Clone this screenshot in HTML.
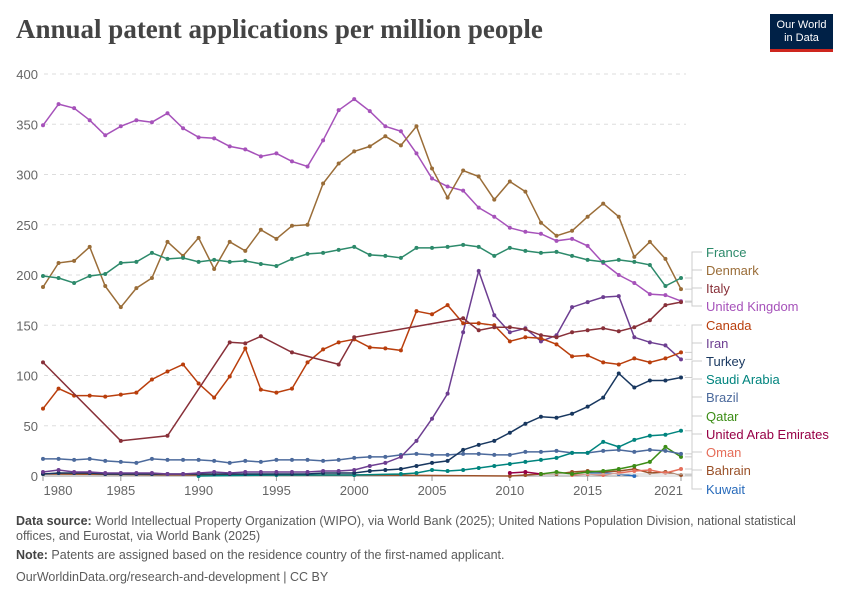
<!DOCTYPE html>
<html><head><meta charset="utf-8">
<style>
body{margin:0;background:#fff;font-family:"Liberation Sans",sans-serif;}
#wrap{position:relative;width:850px;height:600px;overflow:hidden;}
h1{position:absolute;left:16px;top:14px;margin:0;font-family:"Liberation Serif",serif;font-size:27px;font-weight:bold;color:#444;letter-spacing:0px}
.logo{position:absolute;left:770px;top:14px;width:63px;height:38px;background:#002147;color:#fff;font-size:11px;line-height:13px;text-align:center;padding-top:5px;box-sizing:border-box;border-bottom:3px solid #ce261e}
.foot{position:absolute;left:16px;font-size:12.5px;color:#5b5b5b;line-height:15px}
.foot b{color:#444}
</style></head><body>
<div id="wrap">
<h1>Annual patent applications per million people</h1>
<div class="logo">Our World<br>in Data</div>
<svg id="chart" width="850" height="600" style="position:absolute;left:0;top:0"></svg>
<div class="foot" style="top:514px;width:805px"><b>Data source:</b> World Intellectual Property Organization (WIPO), via World Bank (2025); United Nations Population Division, national statistical offices, and Eurostat, via World Bank (2025)</div>
<div class="foot" style="top:548px"><b>Note:</b> Patents are assigned based on the residence country of the first-named applicant.</div>
<div class="foot" style="top:570px">OurWorldinData.org/research-and-development | CC BY</div>
</div>
<script>
const startYear = 1980;
const yTicks = [0,50,100,150,200,250,300,350,400];
const xTicks = [1980,1985,1990,1995,2000,2005,2010,2015,2021];
const franceVals = [199,197,192,199,201,212,213,222,216,217,213,215,213,214,211,209,216,221,222,225,228,220,219,217,227,227,228,230,228,219,227,224,222,223,219,215,213,215,213,210,189,197];
const denmarkVals = [188,212,214,228,189,168,187,197,233,219,237,206,233,224,245,236,249,250,291,311,323,328,338,329,348,306,277,304,298,275,293,283,252,239,244,258,271,258,218,233,216,186];
const italyYears = [1980,1985,1988,1992,1993,1994,1996,1999,2000,2007,2008,2009,2010,2011,2012,2013,2014,2015,2016,2017,2018,2019,2020,2021];
const italyVals = [113,35,40,133,132,139,123,111,138,157,145,148,148,146,140,138,143,145,147,144,148,155,170,173];
const ukVals = [349,370,366,354,339,348,354,352,361,346,337,336,328,325,318,321,313,308,334,364,375,363,348,343,321,296,288,284,267,258,247,243,241,234,236,229,212,200,192,181,180,174];
const canadaVals = [67,87,80,80,79,81,83,96,104,111,92,78,99,127,86,83,87,113,126,133,136,128,127,125,164,161,170,152,152,150,134,138,137,131,119,120,113,111,117,113,117,123];
const iranVals = [4,6,4,4,3,3,3,3,2,2,3,4,3,4,4,4,4,4,5,5,6,10,13,19,35,57,82,143,204,160,143,147,134,140,168,173,178,179,138,133,130,116];
const turkeyVals = [2,3,3,3,2,2,2,2,2,2,2,2,2,2,2,2,2,2,3,3,3,5,6,7,10,13,15,26,31,35,43,52,59,58,62,69,78,102,88,95,95,98];
const saudiYears = [1990,1995,2000,2003,2004,2005,2006,2007,2008,2009,2010,2011,2012,2013,2014,2015,2016,2017,2018,2019,2020,2021];
const saudiVals = [0,1,1,2,3,6,5,6,8,10,12,14,16,18,23,23,34,29,36,40,41,45];
const brazilVals = [17,17,16,17,15,14,13,17,16,16,16,15,13,15,14,16,16,16,15,16,18,19,19,21,22,21,21,22,22,21,21,24,24,25,23,23,25,26,24,26,25,22];
const qatarYears = [2012,2013,2014,2015,2016,2017,2018,2019,2020,2021];
const qatarVals = [2,4,2,4,5,7,10,14,29,19];
const uaeYears = [2010,2011,2012];
const uaeVals = [3,4,2];
const omanYears = [2014,2015,2016,2017,2018,2019,2020,2021];
const omanVals = [1,2,1,3,5,6,3,7];
const bahrainYears = [1980,1990,2000,2010,2011,2012,2013,2014,2015,2016,2017,2018,2019,2020,2021];
const bahrainVals = [2,1,1,0,1,2,2,4,5,4,5,7,3,4,1];
const kuwaitYears = [2015,2016,2017,2018];
const kuwaitVals = [3,3,2,0];

function full(v){return v.map((_,i)=>startYear+i);}
const series = [
 {name:'France',c:'#2d8a6b',years:full(franceVals),vals:franceVals,ly:252},
 {name:'Denmark',c:'#9a6d38',years:full(denmarkVals),vals:denmarkVals,ly:270},
 {name:'Italy',c:'#883039',years:italyYears,vals:italyVals,ly:288},
 {name:'United Kingdom',c:'#a652ba',years:full(ukVals),vals:ukVals,ly:306},
 {name:'Canada',c:'#b93e0c',years:full(canadaVals),vals:canadaVals,ly:325},
 {name:'Iran',c:'#6d3e91',years:full(iranVals),vals:iranVals,ly:343},
 {name:'Turkey',c:'#18375f',years:full(turkeyVals),vals:turkeyVals,ly:361},
 {name:'Saudi Arabia',c:'#00847e',years:saudiYears,vals:saudiVals,ly:379},
 {name:'Brazil',c:'#4c6a9c',years:full(brazilVals),vals:brazilVals,ly:397},
 {name:'Qatar',c:'#3c8d16',years:qatarYears,vals:qatarVals,ly:416},
 {name:'United Arab Emirates',c:'#970046',years:uaeYears,vals:uaeVals,ly:434},
 {name:'Oman',c:'#e56e5a',years:omanYears,vals:omanVals,ly:452},
 {name:'Bahrain',c:'#9a5129',years:bahrainYears,vals:bahrainVals,ly:470},
 {name:'Kuwait',c:'#286bbb',years:kuwaitYears,vals:kuwaitVals,ly:489}
];
const X0=43, X1=681, Y0=476, Y1=74;
const x = yr => X0 + (yr-1980)*(X1-X0)/41;
const y = v => Y0 - v*(Y0-Y1)/400;
const svg=document.getElementById('chart');
const NS='http://www.w3.org/2000/svg';
function mk(t,a,p){const e=document.createElementNS(NS,t);for(const k in a)e.setAttribute(k,a[k]);(p||svg).appendChild(e);return e;}
yTicks.forEach(t=>{
 const l=mk('line',{x1:44,x2:686,y1:y(t),y2:y(t),stroke:t===0?'#999':'#ddd','stroke-dasharray':t===0?'':'4,4'});
 
 
 const tx=mk('text',{x:38,y:y(t)+5,'text-anchor':'end','font-size':13,fill:'#666'});
 tx.textContent=t;
 
 
});
xTicks.forEach((t,i)=>{
 const last=i===xTicks.length-1;
 const tx=mk('text',{x:last?683:x(t)+(i===0?15:0),y:495,'text-anchor':last?'end':'middle','font-size':13,fill:'#666'});
 tx.textContent=t;
 
 
 const tk=mk('line',{x1:x(t),x2:x(t),y1:476,y2:481,stroke:'#999'});
 
 
});
series.slice().reverse().forEach(s=>{
 const g=mk('g',{});
 
 
 const pts=s.years.map((yr,i)=>x(yr).toFixed(1)+','+y(s.vals[i]).toFixed(1)).join(' ');
 mk('polyline',{points:pts,fill:'none',stroke:s.c,'stroke-width':1.5},g);
 s.years.forEach((yr,i)=>{
  const d=mk('circle',{cx:x(yr),cy:y(s.vals[i]),r:2,fill:s.c},g);
  
  
 });
 const endY=y(s.vals[s.vals.length-1]);
 const endX=x(s.years[s.years.length-1]);
 const conn=mk('path',{d:`M${endX+4},${endY} H692 V${s.ly} H702`,fill:'none',stroke:'#ccc','stroke-width':1});
 
 
 const lt=mk('text',{x:706,y:s.ly+5,'font-size':13,fill:s.c});
 lt.textContent=s.name;
 
 
});
</script>
</body></html>
